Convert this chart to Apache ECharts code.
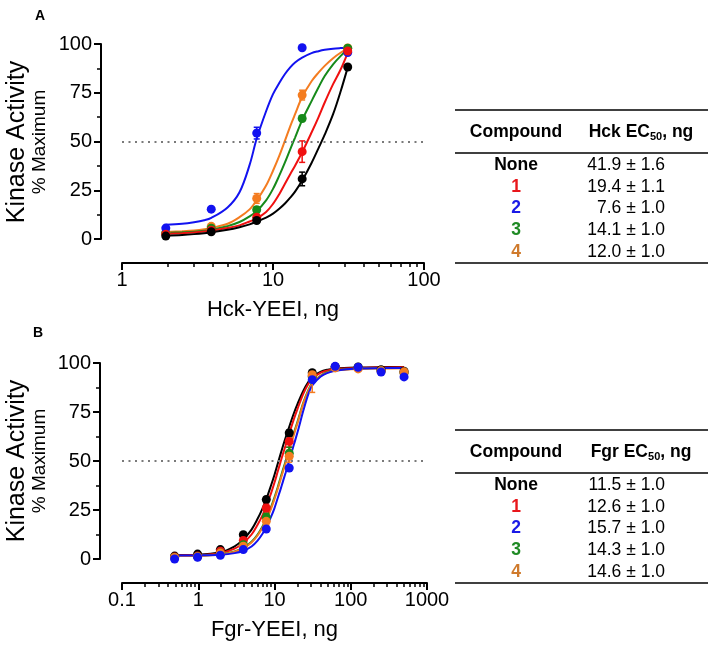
<!DOCTYPE html>
<html>
<head>
<meta charset="utf-8">
<script src="https://cdn.jsdelivr.net/npm/echarts@6/dist/echarts.min.js"></script>
<style>html,body{margin:0;padding:0;background:#fff;}#c{width:708px;height:649px;}</style>
</head>
<body>
<div id="c"></div>
<script>
// ---------------- DATA ----------------
// Panel A: Hck-YEEI dose (ng) and % maximum activity
const doseA = [1.95, 3.9, 7.8, 15.6, 31.25];
const hckNone = [1.5, 3.7, 9.5, 30.8, 88.2];
const hck1 = [2.5, 4.5, 11.2, 44.8, 96.4];
const hck2 = [5.6, 15.3, 54.3, 98.1, 95.6];
const hck3 = [3.0, 5.5, 15.0, 61.8, 97.8];
const hck4 = [3.3, 6.5, 20.8, 73.8, 98.0];
const hckErrNone = [0, 0, 0, 3.5, 1];
const hckErr1 = [0, 0, 1, 5.5, 0];
const hckErr2 = [0, 0, 3, 0, 0];
const hckErr3 = [0, 0, 1.5, 1.5, 0];
const hckErr4 = [0, 0.8, 2.5, 2.5, 0];
// Panel A fitted curves
const fitXA = [1.95, 2.5, 3, 3.5, 3.9, 5, 6, 7, 7.8, 9, 10, 11, 12, 13, 14, 15.6, 18, 20, 22, 25, 28, 31.25];
const fitANone = [1.8, 2.1, 2.5, 3.0, 3.5, 4.7, 6.0, 7.5, 8.9, 11, 13, 15.5, 18.2, 21.2, 24.3, 30, 39, 46.5, 53.5, 64, 75.5, 88];
const fitA1 = [2.7, 3.0, 3.3, 3.8, 4.3, 5.6, 7, 9, 10.5, 13.8, 18, 23, 28.3, 33.2, 37.6, 44.5, 54.6, 62.4, 70, 79.4, 86.8, 95.5];
const fitA2 = [7.3, 7.8, 8.6, 9.6, 10.8, 16.2, 24, 38, 51.5, 65.5, 74.3, 80, 84.6, 88, 90.5, 93, 95.3, 96.3, 97, 97.6, 97.9, 98.1];
const fitA3 = [3.1, 3.4, 3.7, 4.2, 4.8, 6.6, 8.7, 11.6, 14.3, 19.8, 25.7, 32.5, 39.3, 46, 52, 61, 70.7, 77.7, 83.6, 89.6, 93.8, 97.3];
const fitA4 = [3.6, 4.0, 4.4, 5.0, 5.7, 7.8, 11.2, 15.2, 19.8, 27.4, 35, 42.6, 50.4, 57.8, 64, 72.8, 80.9, 85.3, 88.8, 92.7, 95.5, 97.6];

// Panel B: Fgr-YEEI dose (ng) and % maximum activity
const doseB = [0.49, 0.98, 1.95, 3.9, 7.8, 15.6, 31.25, 62.5, 125, 250, 500];
const fgrNone = [1.5, 2.5, 4.8, 12.4, 30.3, 64.3, 95, 98, 98, 96.5, 95.8];
const fgr1 = [1.0, 1.5, 4.0, 9.5, 26, 60, 93.5, 98, 97.5, 96, 95];
const fgr2 = [0, 0.9, 1.9, 4.8, 15.3, 46.4, 91.5, 98.3, 97.8, 95.4, 92.9];
const fgr3 = [0.8, 1.2, 3.0, 7.3, 21.3, 54, 93, 98, 97.5, 96, 95];
const fgr4 = [0.8, 1.2, 3.0, 6.5, 19.2, 52.4, 94, 97.5, 97, 96, 95.5];
// error as value or [low, high]
const fgrErrNone = [0, 0, 0, 0, 1.5, 1.5, 0, 0, 0, 0, 0];
const fgrErr1 = [0, 0, 0, 0, 2, 3, 0, 0, 0, 0, 0];
const fgrErr2 = [0, 0, 0, 0, 0, 0, 0, 0, 0, 0, 0];
const fgrErr3 = [0, 0, 0, 0, 2, 3, 0, 0, 0, 0, 0];
const fgrErr4 = [0, 0, 0, 1, 2, 3, [9, 0], 0, 0, 0, 0];
// Panel B fitted curves
const fitXB = [0.49, 0.98, 1.95, 3, 3.9, 5, 6, 7, 7.8, 9, 10, 11, 12, 13, 14, 15.6, 18, 20, 24, 28, 31.25, 40, 50, 62.5, 125, 250, 500];
const fitBNone = [2.0, 2.2, 3.5, 6.5, 10, 15, 20.5, 26, 30.5, 37.5, 43, 48.5, 53.5, 58, 62, 67.5, 74.5, 79, 86, 90.5, 93, 95.5, 96.6, 97.2, 97.7, 97.9, 98];
const fitB1 = [1.8, 2.0, 3.0, 5.3, 8.2, 12.5, 17.5, 22.5, 27, 33.5, 39, 44.5, 49.5, 54, 58, 64, 71.5, 76.5, 84.5, 89.5, 92, 95, 96.2, 96.9, 97.5, 97.7, 97.8];
const fitB2 = [1.8, 1.9, 2.2, 3.0, 4.2, 6.4, 9.4, 13, 16.3, 21.5, 26, 31, 35.5, 40, 44, 50.3, 58.5, 64.5, 76, 84.5, 88.5, 93, 95, 96.1, 97.2, 97.4, 97.5];
const fitB3 = [1.5, 1.7, 2.4, 3.9, 5.8, 8.8, 12.5, 16.8, 20.5, 26.5, 31.5, 36.5, 41.5, 46, 50, 56.5, 64.5, 70, 80, 86.5, 90, 93.5, 95.4, 96.3, 97.2, 97.4, 97.5];
const fitB4 = [1.5, 1.6, 2.3, 3.7, 5.5, 8.4, 12, 16.2, 19.8, 25.6, 30.6, 35.6, 40.5, 45, 49, 55.5, 63.6, 69.2, 79.5, 86, 89.5, 93.3, 95.2, 96.2, 97, 97.2, 97.3];

// Axis ticks
const ticksA = [1, 10, 100];
const minorTicksA = [2, 3, 4, 5, 6, 7, 8, 9, 20, 30, 40, 50, 60, 70, 80, 90];
const ticksB = [0.1, 1, 10, 100, 1000];
const minorTicksB = [0.2, 0.3, 0.4, 0.5, 0.6, 0.7, 0.8, 0.9, 2, 3, 4, 5, 6, 7, 8, 9, 20, 30, 40, 50, 60, 70, 80, 90, 200, 300, 400, 500, 600, 700, 800, 900];
const refLevel = 50;

// Table data
const compounds = ['None', '1', '2', '3', '4'];
const hckEC50 = [41.9, 19.4, 7.6, 14.1, 12.0];
const hckSEM = [1.6, 1.1, 1.0, 1.0, 1.0];
const fgrEC50 = [11.5, 12.6, 15.7, 14.3, 14.6];
const fgrSEM = [1.0, 1.0, 1.0, 1.0, 1.0];

// ---------------- STYLE ----------------
const FONT = '"Liberation Sans", Arial, Helvetica, sans-serif';
const C = { none: '#000000', c1: '#f01010', c2: '#1212f0', c3: '#168a1a', c4: '#f47c20' };
const tableColors = ['#000000', '#e8161b', '#1a1ae6', '#1f8a24', '#cf7a2c'];

function zip(xs, ys) { return xs.map((x, i) => [x, ys[i]]); }
function errData(xs, ys, es) {
  const out = [];
  xs.forEach((x, i) => {
    const e = es[i];
    let lo, hi;
    if (Array.isArray(e)) { lo = e[0]; hi = e[1]; } else { lo = e; hi = e; }
    if (lo > 0 || hi > 0) out.push([x, ys[i], lo, hi]);
  });
  return out;
}

function curve(name, xs, ys, color, xi, yi, extra) {
  return Object.assign({
    type: 'line', name, xAxisIndex: xi, yAxisIndex: yi, data: zip(xs, ys),
    showSymbol: false, symbol: 'none', smooth: 0.35, clip: false,
    lineStyle: { color, width: 2 }, z: 2, silent: true
  }, extra || {});
}
function dots(name, xs, ys, color, xi, yi) {
  return { type: 'scatter', name, xAxisIndex: xi, yAxisIndex: yi, data: zip(xs, ys),
    symbol: 'circle', symbolSize: 9, itemStyle: { color, opacity: 1 }, z: 4, clip: false, silent: true };
}
function errs(name, xs, ys, es, color, xi, yi) {
  return {
    type: 'custom', name, xAxisIndex: xi, yAxisIndex: yi, data: errData(xs, ys, es), z: 3, silent: true,
    encode: { x: 0, y: 1 }, clip: false,
    renderItem: function (params, api) {
      const x = api.value(0), y = api.value(1), lo = api.value(2), hi = api.value(3);
      const pt = api.coord([x, y + hi]);
      const pb = api.coord([x, y - lo]);
      const w = 3;
      const st = { stroke: color, lineWidth: 1.5 };
      return { type: 'group', children: [
        { type: 'line', shape: { x1: pt[0], y1: pt[1], x2: pb[0], y2: pb[1] }, style: st },
        { type: 'line', shape: { x1: pt[0] - w, y1: pt[1], x2: pt[0] + w, y2: pt[1] }, style: st },
        { type: 'line', shape: { x1: pb[0] - w, y1: pb[1], x2: pb[0] + w, y2: pb[1] }, style: st }
      ] };
    }
  };
}

const refLine = {
  silent: true, symbol: 'none', label: { show: false },
  lineStyle: { type: [2, 4.5], color: '#7a7a7a', width: 2 },
  data: [{ yAxis: refLevel }]
};

function xMain(grid, min, max, ticks, name) {
  return {
    type: 'log', logBase: 10, gridIndex: grid, min, max, position: 'bottom', offset: 24,
    axisLine: { show: true, onZero: false, lineStyle: { color: '#000', width: 2 } },
    axisTick: { show: true, customValues: ticks, length: 7, lineStyle: { color: '#000', width: 2 } },
    axisLabel: { show: true, customValues: ticks, color: '#000', fontSize: 20, fontFamily: FONT, margin: 7,
      formatter: v => String(v) },
    splitLine: { show: false }, minorTick: { show: false }, minorSplitLine: { show: false },
    name, nameLocation: 'middle', nameGap: 36,
    nameTextStyle: { color: '#000', fontSize: 22, fontFamily: FONT }
  };
}
function xMinor(grid, min, max, ticks) {
  return {
    type: 'log', logBase: 10, gridIndex: grid, min, max, position: 'bottom', offset: 24,
    axisLine: { show: false, onZero: false },
    axisTick: { show: true, customValues: ticks, length: 4, lineStyle: { color: '#000', width: 1.5 } },
    axisLabel: { show: false }, splitLine: { show: false }
  };
}
function yAx(grid, offset) {
  return {
    type: 'value', gridIndex: grid, min: 0, max: 100, interval: 25, position: 'left', offset,
    axisLine: { show: true, onZero: false, lineStyle: { color: '#000', width: 2 } },
    axisTick: { show: true, length: 7, lineStyle: { color: '#000', width: 2 } },
    minorTick: { show: true, splitNumber: 2, length: 4, lineStyle: { color: '#000', width: 1.5 } },
    axisLabel: { color: '#000', fontSize: 20, fontFamily: FONT, margin: 9 },
    splitLine: { show: false }, minorSplitLine: { show: false }
  };
}

// ---------- table graphics ----------
function table(top, header, ec, sem) {
  const els = [];
  const lineSt = { stroke: '#000', lineWidth: 1.5 };
  const ruleX1 = 455, ruleX2 = 708;
  els.push({ type: 'line', shape: { x1: ruleX1, y1: top, x2: ruleX2, y2: top }, style: lineSt });
  els.push({ type: 'line', shape: { x1: ruleX1, y1: top + 43, x2: ruleX2, y2: top + 43 }, style: lineSt });
  els.push({ type: 'line', shape: { x1: ruleX1, y1: top + 153, x2: ruleX2, y2: top + 153 }, style: lineSt });
  els.push({ type: 'text', x: 516, y: top + 22, style: { text: 'Compound', font: 'bold 17.5px ' + FONT, fill: '#000', align: 'center', verticalAlign: 'middle' } });
  els.push({ type: 'text', x: 641, y: top + 22, style: {
    text: header + ' EC{s|50}, ng', font: 'bold 17.5px ' + FONT, fill: '#000', align: 'center', verticalAlign: 'middle',
    rich: { s: { fontSize: 11, fontWeight: 'bold', fontFamily: FONT, fill: '#000', padding: [9, 0, 0, 0] } }
  } });
  compounds.forEach((c, i) => {
    const y = top + 55 + i * 21.7;
    els.push({ type: 'text', x: 516, y, style: { text: c, font: 'bold 17.5px ' + FONT, fill: tableColors[i], align: 'center', verticalAlign: 'middle' } });
    els.push({ type: 'text', x: 665, y, style: { text: ec[i].toFixed(1) + ' \u00b1 ' + sem[i].toFixed(1), font: '17.5px ' + FONT, fill: '#000', align: 'right', verticalAlign: 'middle' } });
  });
  return els;
}

const graphics = [
  { type: 'text', x: 40, y: 16, style: { text: 'A', font: 'bold 14px ' + FONT, fill: '#000', align: 'center', verticalAlign: 'middle' } },
  { type: 'text', x: 38, y: 333, style: { text: 'B', font: 'bold 14px ' + FONT, fill: '#000', align: 'center', verticalAlign: 'middle' } },
  { type: 'text', x: 17, y: 142, rotation: Math.PI / 2, style: { text: 'Kinase Activity', font: '25px ' + FONT, fill: '#000', align: 'center', verticalAlign: 'middle' } },
  { type: 'text', x: 40, y: 142, rotation: Math.PI / 2, style: { text: '% Maximum', font: '19px ' + FONT, fill: '#000', align: 'center', verticalAlign: 'middle' } },
  { type: 'text', x: 17, y: 461, rotation: Math.PI / 2, style: { text: 'Kinase Activity', font: '25px ' + FONT, fill: '#000', align: 'center', verticalAlign: 'middle' } },
  { type: 'text', x: 40, y: 461, rotation: Math.PI / 2, style: { text: '% Maximum', font: '19px ' + FONT, fill: '#000', align: 'center', verticalAlign: 'middle' } }
].concat(table(110, 'Hck', hckEC50, hckSEM), table(430, 'Fgr', fgrEC50, fgrSEM));

const series = [
  // Panel A
  curve('A2', fitXA, fitA2, C.c2, 0, 0, { markLine: refLine }),
  curve('A4', fitXA, fitA4, C.c4, 0, 0),
  curve('A3', fitXA, fitA3, C.c3, 0, 0),
  curve('A1', fitXA, fitA1, C.c1, 0, 0),
  curve('ANone', fitXA, fitANone, C.none, 0, 0),
  errs('eA4', doseA, hck4, hckErr4, C.c4, 0, 0),
  errs('eA3', doseA, hck3, hckErr3, C.c3, 0, 0),
  errs('eA2', doseA, hck2, hckErr2, C.c2, 0, 0),
  errs('eA1', doseA, hck1, hckErr1, C.c1, 0, 0),
  errs('eANone', doseA, hckNone, hckErrNone, C.none, 0, 0),
  dots('pA4', doseA, hck4, C.c4, 0, 0),
  dots('pA3', doseA, hck3, C.c3, 0, 0),
  dots('pA2', doseA, hck2, C.c2, 0, 0),
  dots('pA1', doseA, hck1, C.c1, 0, 0),
  dots('pANone', doseA, hckNone, C.none, 0, 0),
  // Panel B
  curve('BNone', fitXB, fitBNone, C.none, 2, 1, { markLine: refLine }),
  curve('B1', fitXB, fitB1, C.c1, 2, 1),
  curve('B3', fitXB, fitB3, C.c3, 2, 1),
  curve('B4', fitXB, fitB4, C.c4, 2, 1),
  curve('B2', fitXB, fitB2, C.c2, 2, 1),
  errs('eBNone', doseB, fgrNone, fgrErrNone, C.none, 2, 1),
  errs('eB1', doseB, fgr1, fgrErr1, C.c1, 2, 1),
  errs('eB3', doseB, fgr3, fgrErr3, C.c3, 2, 1),
  errs('eB4', doseB, fgr4, fgrErr4, C.c4, 2, 1),
  dots('pBNone', doseB, fgrNone, C.none, 2, 1),
  dots('pB1', doseB, fgr1, C.c1, 2, 1),
  dots('pB3', doseB, fgr3, C.c3, 2, 1),
  dots('pB4', doseB, fgr4, C.c4, 2, 1),
  dots('pB2', doseB, fgr2, C.c2, 2, 1)
];

const chart = echarts.init(document.getElementById('c'), null, { renderer: 'canvas' });
chart.setOption({
  animation: false,
  backgroundColor: '#ffffff',
  textStyle: { fontFamily: FONT },
  grid: [
    { left: 122, top: 44, width: 302, height: 195, containLabel: false, outerBoundsMode: 'none' },
    { left: 122, top: 363, width: 305, height: 196, containLabel: false, outerBoundsMode: 'none' }
  ],
  xAxis: [
    xMain(0, 1, 100, ticksA, 'Hck-YEEI, ng'),
    xMinor(0, 1, 100, minorTicksA),
    xMain(1, 0.1, 1000, ticksB, 'Fgr-YEEI, ng'),
    xMinor(1, 0.1, 1000, minorTicksB)
  ],
  yAxis: [yAx(0, 21), yAx(1, 22)],
  series,
  graphic: graphics
});
</script>
</body>
</html>
